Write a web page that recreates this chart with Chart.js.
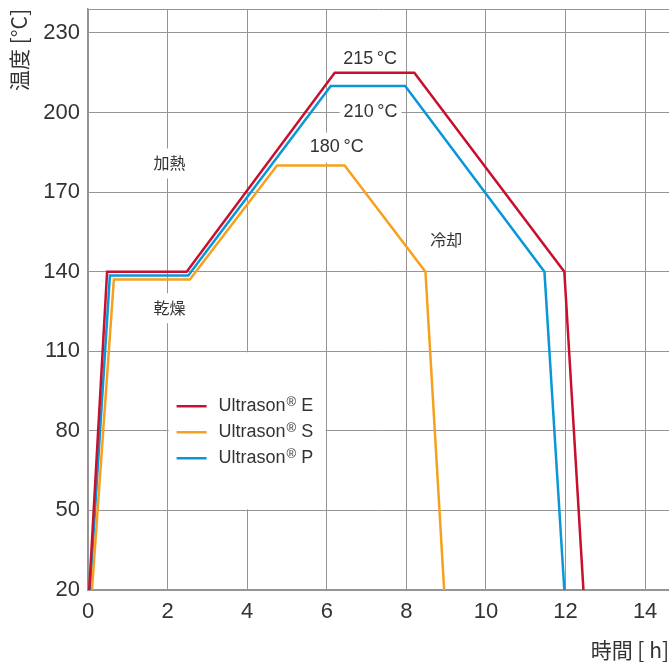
<!DOCTYPE html>
<html>
<head>
<meta charset="utf-8">
<script src="https://cdn.jsdelivr.net/npm/chart.js@4"></script>
<style>
  html, body { margin: 0; padding: 0; background: #fff; }
  #wrap { width: 669px; height: 662px; }
</style>
</head>
<body>
<div id="wrap"><canvas id="chart"></canvas></div>
<script>
// Data (hours vs. °C)
const eHours = [0.03, 0.48, 2.48, 6.2, 8.2, 11.97, 12.45];
const eTemps = [20, 140, 140, 215, 215, 140, 20];
const sHours = [0.1, 0.65, 2.56, 4.75, 6.45, 8.48, 8.95];
const sTemps = [20, 137, 137, 180, 180, 140, 20];
const pHours = [0.05, 0.55, 2.52, 6.1, 7.97, 11.47, 11.97];
const pTemps = [20, 138.5, 138.5, 210, 210, 140, 20];

const seriesLabels = ['Ultrason® E', 'Ultrason® S', 'Ultrason® P'];
const xTicks = [0, 2, 4, 6, 8, 10, 12, 14];
const yTicks = [20, 50, 80, 110, 140, 170, 200, 230];
const noteTexts = ['215\u2009°C', '210\u2009°C', '180\u2009°C', '加熱', '乾燥', '冷却'];
const xTitle = '時間 [ h]';
const yTitle = '温度 [°C]';

const RED = '#c8102e';
const ORANGE = '#f7a01e';
const BLUE = '#0a96d8';
const GRID = '#959595';
const TEXT = '#333333';
const FONT = "'Liberation Sans', Arial, 'Noto Sans CJK JP', sans-serif";
const CJK = "'Noto Sans CJK JP', 'Liberation Sans', sans-serif";

const toPts = (xs, ys) => xs.map((x, i) => ({ x, y: ys[i] }));

// where the free-floating labels sit, in data units
const notePos = [[7.09, 220.3], [7.1, 200], [6.25, 186.8], [2.05, 180.8], [2.05, 126.2], [9.0, 151.8]];

const decor = {
  id: 'decor',
  beforeDatasetsDraw(chart) {
    const { ctx, chartArea: a, scales: { x, y } } = chart;
    ctx.save();
    // top frame line
    ctx.strokeStyle = GRID;
    ctx.lineWidth = 1;
    ctx.beginPath();
    ctx.moveTo(a.left, a.top + 0.5);
    ctx.lineTo(a.right, a.top + 0.5);
    ctx.stroke();
    // white box for legend (covers grid cells 2..6 h, 50..110 °C)
    ctx.fillStyle = '#fff';
    const lx = x.getPixelForValue(2) + 1, rx = x.getPixelForValue(6) - 1;
    const ty = y.getPixelForValue(110) + 1, by = y.getPixelForValue(50) - 1;
    ctx.fillRect(lx, ty, rx - lx, by - ty);
    // white boxes behind note texts
    noteTexts.forEach((t, i) => {
      const cjk = /[^\x00-\u2FFF]/.test(t);
      ctx.font = cjk ? '16px ' + CJK : '18px ' + FONT;
      const w = ctx.measureText(t).width + 8;
      const px = x.getPixelForValue(notePos[i][0]);
      const py = y.getPixelForValue(notePos[i][1]);
      ctx.fillRect(px - w / 2, py - 15, w, 30);
    });
    ctx.restore();
  },
  afterDatasetsDraw(chart) {
    const { ctx, scales: { x, y } } = chart;
    ctx.save();
    ctx.fillStyle = TEXT;
    ctx.textBaseline = 'middle';
    ctx.textAlign = 'center';
    noteTexts.forEach((t, i) => {
      const cjk = /[^\x00-\u2FFF]/.test(t);
      ctx.font = cjk ? '16px ' + CJK : '18px ' + FONT;
      ctx.fillText(t, x.getPixelForValue(notePos[i][0]), y.getPixelForValue(notePos[i][1]));
    });

    // legend
    const lx = x.getPixelForValue(2);
    const top = y.getPixelForValue(110);
    chart.data.datasets.forEach((ds, i) => {
      const cy = top + 55 + i * 26;
      ctx.strokeStyle = ds.borderColor;
      ctx.lineWidth = 2.5;
      ctx.beginPath();
      ctx.moveTo(lx + 9, cy);
      ctx.lineTo(lx + 39, cy);
      ctx.stroke();
      const [base, tail] = ds.label.split('®');
      ctx.textAlign = 'left';
      ctx.font = '18px ' + FONT;
      let tx = lx + 51;
      ctx.fillText(base, tx, cy);
      tx += ctx.measureText(base).width + 1;
      ctx.font = '13px ' + FONT;
      ctx.fillText('®', tx, cy - 4);
      tx += ctx.measureText('®').width;
      ctx.font = '18px ' + FONT;
      ctx.fillText(tail, tx, cy);
    });

    // axis titles
    ctx.font = '21px ' + CJK;
    ctx.textAlign = 'right';
    ctx.fillText(xTitle, 669, 650);
    ctx.translate(19, 9);
    ctx.rotate(-Math.PI / 2);
    ctx.fillText(yTitle, 0, 0);
    ctx.restore();
  },
};

new Chart(document.getElementById('chart'), {
  type: 'line',
  data: {
    datasets: [
      { label: seriesLabels[0], data: toPts(eHours, eTemps), borderColor: RED },
      { label: seriesLabels[1], data: toPts(sHours, sTemps), borderColor: ORANGE },
      { label: seriesLabels[2], data: toPts(pHours, pTemps), borderColor: BLUE },
    ].map(ds => ({ ...ds, borderWidth: 2.5, pointRadius: 0, tension: 0, fill: false, borderJoinStyle: 'miter' })),
  },
  options: {
    responsive: true,
    maintainAspectRatio: false,
    animation: false,
    layout: { padding: { top: 9, right: 0, left: 0, bottom: 0 } },
    plugins: { legend: { display: false }, tooltip: { enabled: false } },
    scales: {
      x: {
        type: 'linear',
        min: 0,
        max: 14.6,
        afterBuildTicks: s => { s.ticks = xTicks.map(v => ({ value: v })); },
        afterFit: s => { s.height = 72; s.paddingRight = 0; s.paddingLeft = 0; },
        grid: { color: GRID, lineWidth: 1, drawTicks: false },
        border: { color: GRID, width: 1.5 },
        ticks: { color: TEXT, font: { family: FONT, size: 22 }, padding: 9, maxRotation: 0 },
      },
      y: {
        min: 20,
        max: 239,
        afterBuildTicks: s => { s.ticks = yTicks.map(v => ({ value: v })); },
        afterFit: s => { s.width = 88; s.paddingTop = 0; s.paddingBottom = 0; },
        grid: { color: GRID, lineWidth: 1, drawTicks: false },
        border: { color: GRID, width: 1.5 },
        ticks: { color: TEXT, font: { family: FONT, size: 22 }, padding: 8 },
      },
    },
  },
  plugins: [decor],
});
</script>
</body>
</html>
